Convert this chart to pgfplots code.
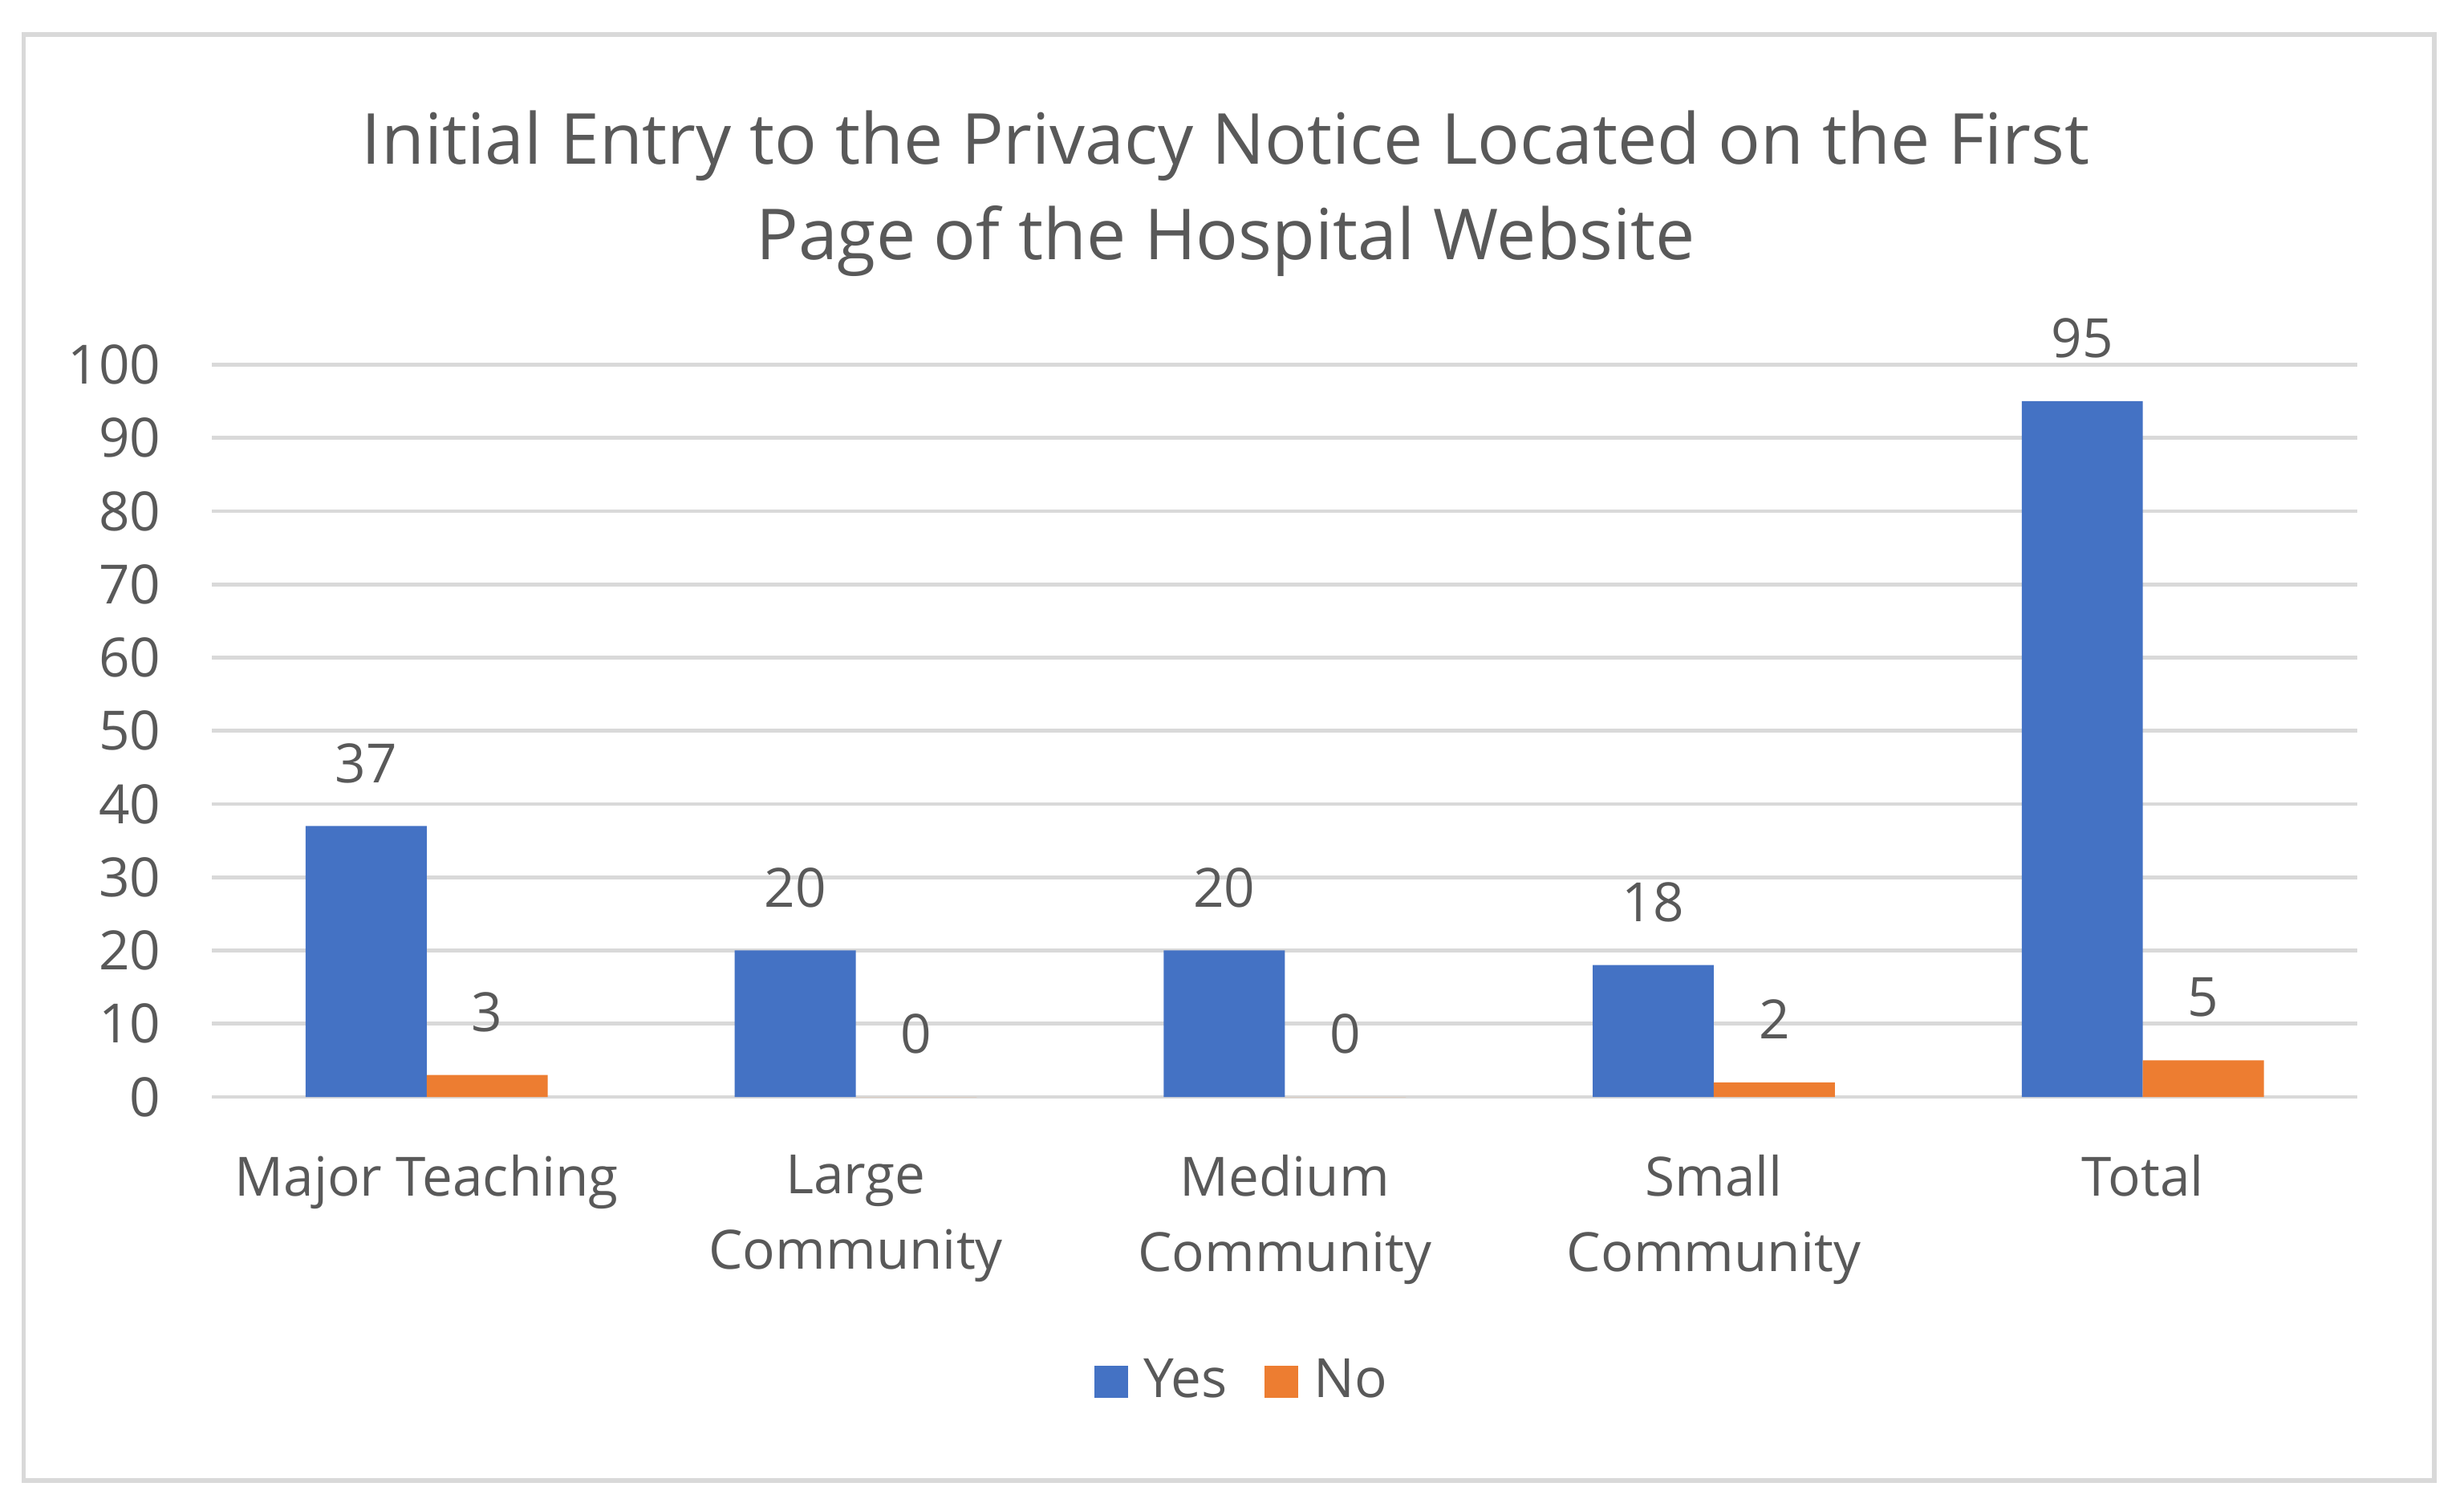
\documentclass[border=0pt]{standalone}
\usepackage{pgfplots}
\pgfplotsset{compat=1.18}
\usepackage{fontspec}
\setmainfont{Open Sans}
\definecolor{cblue}{HTML}{4472C4}
\definecolor{corange}{HTML}{ED7D31}
\definecolor{ctext}{HTML}{595959}
\definecolor{cgrid}{HTML}{D9D9D9}
\begin{document}
\begin{tikzpicture}
\path[use as bounding box] (0,0) rectangle (16cm,9.806cm);
\draw[cgrid, line width=0.8pt] (0.153cm,0.194cm) rectangle (15.806cm,9.582cm);
\begin{axis}[
  at={(1.378cm,2.684cm)}, anchor=south west,
  scale only axis, width=13.929cm, height=4.755cm,
  xmin=-0.5, xmax=4.5, ymin=0, ymax=100,
  ytick={0,10,...,100},
  xtick={0,1,2,3,4},
  xticklabels={Major Teaching, Large\\Community, Medium\\Community, Small\\Community, Total},
  axis line style={draw=none},
  major tick length=0pt,
  ymajorgrids, grid style={cgrid, line width=0.7pt},
  ybar=0pt, bar width=0.786cm,
  /pgf/number format/assume math mode=true,
  tick label style={font=\fontsize{10}{13.9}\selectfont, text=ctext},
  xticklabel style={align=center, yshift=-7.2pt},
  yticklabel style={xshift=-6pt},
  nodes near coords,
  nodes near coords style={font=\fontsize{10}{12}\selectfont, text=ctext, anchor=center, yshift=0.408cm},
  legend style={at={(0.482,-0.39)}, anchor=center, draw=none, fill=none,
    legend columns=2, font=\fontsize{10}{12}\selectfont, text=ctext,
    /tikz/every even column/.append style={column sep=0.17cm},
    /tikz/every odd column/.append style={column sep=0.03cm}},
  legend image code/.code={\draw[#1,draw=none] (0cm,-0.1cm) rectangle (0.22cm,0.11cm);},
  clip=false,
]
\addplot[fill=cblue, draw=none] coordinates {(0,37) (1,20) (2,20) (3,18) (4,95)};
\addplot[fill=corange, draw=none] coordinates {(0,3) (1,0) (2,0) (3,2) (4,5)};
\legend{Yes,No}
\end{axis}
\node[align=center, text=ctext, font=\fontsize{13}{17.65}\selectfont] at (7.959cm,8.55cm) {Initial Entry to the Privacy Notice Located on the First\\Page of the Hospital Website};
\end{tikzpicture}
\end{document}
